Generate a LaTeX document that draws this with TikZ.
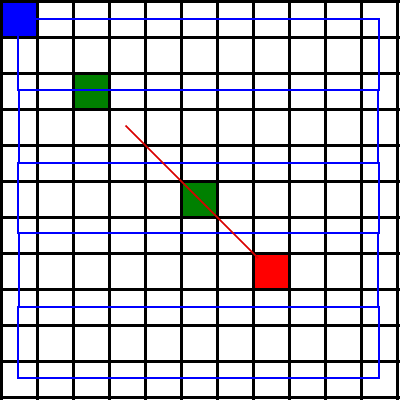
\documentclass[tikz,border=0pt]{standalone}
\begin{document}
\begin{tikzpicture}[x=1pt,y=-1pt,
  gridline/.style={line width=3.4pt,black},
  pathline/.style={line width=2pt,blue},
  trackline/.style={line width=1.5pt,red!85!black}]
\useasboundingbox (0,0) rectangle (400,400);
\fill[white] (0,0) rectangle (400,400);
% coloured cells
\fill[blue] (1.5,1.5) rectangle (37.5,37.5);
\fill[green!50!black] (73.5,73.5) rectangle (109.5,109.5);
\fill[green!50!black] (181.5,181.5) rectangle (217.5,217.5);
\fill[red] (253.5,253.5) rectangle (289.5,289.5);
% grid
\foreach \k in {0,...,11} {
  \draw[gridline] (1.5+36*\k,0) -- (1.5+36*\k,400);
  \draw[gridline] (0,1.5+36*\k) -- (400,1.5+36*\k);
}
% coverage path
\draw[pathline] (18,19) rectangle (379,90);
\draw[pathline] (19,90) rectangle (378,163);
\draw[pathline] (18,163) rectangle (379,233);
\draw[pathline] (19,233) rectangle (378,307);
\draw[pathline] (18,307) rectangle (379,378);
% track
\coordinate (s) at (125.5,125.5);
\coordinate (e) at (258,258);
\draw[trackline] (s) -- (e);
\end{tikzpicture}
\end{document}
